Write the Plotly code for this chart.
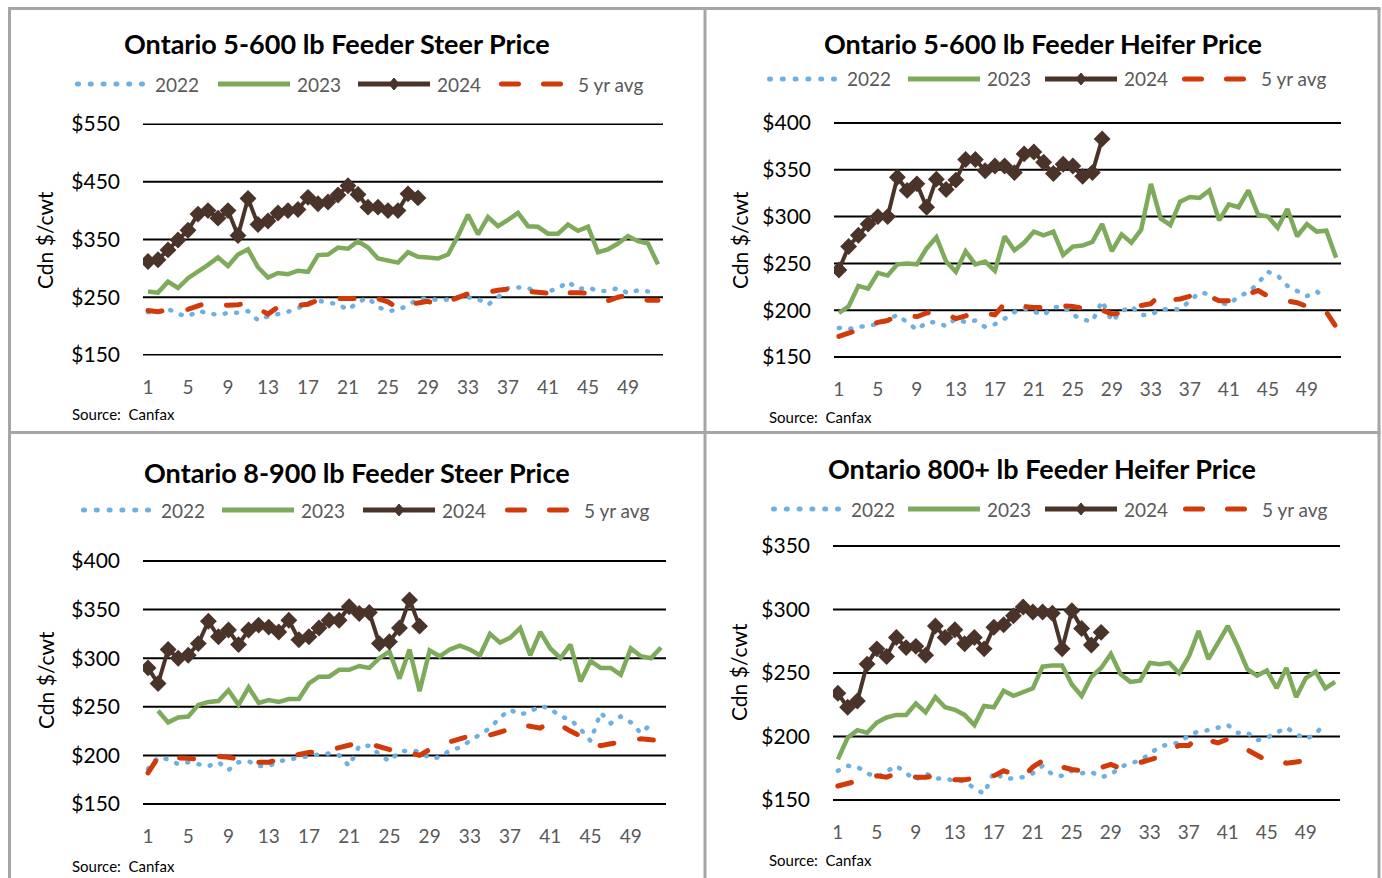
import plotly.graph_objects as go

W, H = 1382, 878
weeks = list(range(1, 53))
series_names = ["2022", "2023", "2024", "5 yr avg"]
xtick_vals = list(range(1, 53, 4))

# ---------------- data (Cdn $/cwt by week) ----------------
# Ontario 5-600 lb Feeder Steer Price
s56_2022 = [224,225,230,221,217,226,223,219,223,223,226,210,217,221,225,231,240,244,240,238,
            228,242,249,233,226,228,236,247,248,245,246,250,250,247,237,250,266,267,266,258,
            260,265,277,264,267,261,261,266,257,262,260]
s56_2023 = [260,258,277,266,283,294,306,319,304,324,333,302,284,292,290,296,294,323,324,336,
            334,347,336,317,314,310,328,320,319,317,324,356,393,359,389,373,384,396,373,372,
            360,360,376,365,372,328,333,343,356,347,343,307]
s56_2024 = [312,315,332,349,366,394,400,387,400,357,421,376,382,396,400,402,423,412,415,427,
            443,428,406,406,400,400,429,422]
s56_avg = [227,225,228,228,229,235,241,238,236,237,240,230,221,233,236,236,238,245,248,248,
           247,248,253,248,242,231,238,240,243,236,242,250,256,256,260,262,264,265,260,258,
           257,250,258,258,257,247,244,250,254,248,245,245]

# Ontario 5-600 lb Feeder Heifer Price
h56_2022 = [181,180,182,183,185,190,195,187,179,187,187,183,191,187,189,182,185,191,198,202,
            198,195,203,204,195,190,188,210,188,199,204,195,195,201,201,201,210,219,217,208,
            206,215,219,229,241,237,226,220,215,220,213]
h56_2023 = [197,204,226,223,240,237,249,250,249,266,278,252,241,263,249,252,242,279,264,272,
            284,280,284,259,268,269,273,292,263,281,272,286,335,298,291,316,321,320,328,296,
            313,310,328,302,300,288,308,279,292,284,285,256]
h56_2024 = [243,268,280,292,300,300,342,328,335,310,340,329,339,361,361,349,354,354,347,367,
            369,358,346,356,354,343,347,383]
h56_avg = [172,175,179,183,187,189,194,195,193,197,199,196,191,194,198,197,195,207,205,204,
           203,203,205,205,204,202,197,200,196,197,198,205,207,217,211,212,215,216,215,210,
           210,214,217,221,215,212,210,208,204,204,198,182]

# Ontario 8-900 lb Feeder Steer Price
s89_2022 = [186,198,196,191,193,191,189,193,185,193,194,189,189,194,196,198,199,201,202,200,
            189,210,210,201,194,204,205,204,197,198,205,208,215,222,228,239,247,242,245,251,
            248,240,237,227,215,244,233,240,234,223,232]
s89_2023 = [None,246,234,239,240,252,255,256,267,252,270,254,257,255,258,258,274,281,281,288,
            288,292,290,300,307,279,309,266,308,302,309,313,309,303,325,316,321,331,303,327,
            310,300,314,276,297,290,290,283,310,302,300,311]
s89_2024 = [290,274,309,300,303,315,338,322,329,314,329,334,332,327,339,319,322,331,339,339,
            353,346,347,315,317,331,360,333]
s89_avg = [182,198,198,198,197,196,197,199,198,196,194,193,193,196,198,201,203,204,205,208,
           210,213,212,209,206,203,203,200,206,212,214,217,220,220,221,224,227,232,230,228,
           235,231,225,220,212,210,212,214,215,217,216,215]

# Ontario 800+ lb Feeder Heifer Price
h8_2022 = [173,177,176,171,168,173,177,171,166,171,167,167,165,165,159,155,172,167,167,168,
           171,177,170,169,173,171,172,168,170,176,179,181,186,192,194,195,201,204,205,207,
           209,203,203,197,199,203,207,202,198,202,211]
h8_2023 = [182,199,205,203,211,215,217,217,226,219,231,223,221,217,209,224,223,236,232,235,
           238,255,256,256,241,232,247,254,265,249,243,244,258,257,258,250,263,283,261,274,
           287,271,253,248,252,238,254,231,246,251,238,243]
h8_2024 = [234,223,228,257,269,263,278,270,271,264,287,278,284,273,278,269,286,288,295,302,
           298,298,297,269,299,285,272,282]
h8_avg = [161,163,165,168,169,168,171,170,168,168,169,167,166,166,167,169,169,173,171,168,
          176,181,181,176,174,173,173,175,178,175,177,180,182,184,189,193,193,200,197,195,
          198,194,190,185,181,182,179,180,181,181,180]

titles = ["Ontario 5-600 lb Feeder Steer Price", "Ontario 5-600 lb Feeder Heifer Price",
          "Ontario 8-900 lb Feeder Steer Price", "Ontario 800+ lb Feeder Heifer Price"]
y_ranges = [(150, 550, 100), (150, 400, 50), (150, 400, 50), (150, 350, 50)]
datasets = [(s56_2022, s56_2023, s56_2024, s56_avg),
            (h56_2022, h56_2023, h56_2024, h56_avg),
            (s89_2022, s89_2023, s89_2024, s89_avg),
            (h8_2022, h8_2023, h8_2024, h8_avg)]

# ---------------- styling / layout (pixel geometry) ----------------
FONT = "Lato"
C22, C23, C24, CAVG = "#6EB0E2", "#7DAA5B", "#4A3429", "#D23A0A"
GRID = "#000000"
BORDER = "#A6A6A6"

geo = [
    dict(x0=143, x1=663, ylo=355, yhi=124, title=(337, 44), leg_y=84, leg_x=[76, 218, 358, 499],
         ylab=(45, 240), src=(70, 414)),
    dict(x0=834, x1=1341, ylo=357, yhi=123, title=(1043, 44), leg_y=79, leg_x=[768, 908, 1045, 1182],
         ylab=(740, 240), src=(767, 417)),
    dict(x0=143, x1=666, ylo=804, yhi=561, title=(357, 472), leg_y=510, leg_x=[82, 222, 363, 505],
         ylab=(45, 680), src=(70, 866)),
    dict(x0=833, x1=1340, ylo=800, yhi=546, title=(1042, 469), leg_y=509, leg_x=[772, 908, 1045, 1183],
         ylab=(738, 672), src=(767, 860)),
]


def px(x):
    return x / W


def py(y):
    return 1 - y / H


fig = go.Figure()
layout = dict(width=W, height=H, margin=dict(l=0, r=0, t=0, b=0, pad=0, autoexpand=False),
              paper_bgcolor="white", plot_bgcolor="white", showlegend=False,
              font=dict(family=FONT), template="none")
shapes, annotations = [], []

for i, (g, rng, data, title) in enumerate(zip(geo, y_ranges, datasets, titles)):
    sfx = "" if i == 0 else str(i + 1)
    xa, ya = "x" + sfx, "y" + sfx
    lo, hi, step = rng
    pad = 1.0
    ppu = (g["ylo"] - g["yhi"]) / (hi - lo)
    dom_y = [py(g["ylo"] + pad * ppu), py(g["yhi"] - pad * ppu)]
    layout["xaxis" + sfx] = dict(domain=[px(g["x0"]), px(g["x1"])], range=[0.5, 52.5],
                                 anchor=ya, tickvals=xtick_vals, showgrid=False, zeroline=False,
                                 showline=False, ticks="", ticklabelstandoff=18, automargin=False,
                                 tickfont=dict(family=FONT, size=19, color="#595959"),
                                 fixedrange=True)
    tv = list(range(lo, hi + 1, step))
    layout["yaxis" + sfx] = dict(domain=dom_y, range=[lo - pad, hi + pad], anchor=xa,
                                 tickvals=tv, ticktext=["$" + str(v) for v in tv],
                                 showgrid=False, zeroline=False,
                                 showline=False, ticks="", ticklabelstandoff=22, automargin=False,
                                 tickfont=dict(family=FONT, size=21, color="#000000"),
                                 fixedrange=True)
    # horizontal gridlines at every y tick value
    for v in tv:
        shapes.append(dict(type="line", xref=xa + " domain", yref=ya, x0=0, x1=1, y0=v, y1=v,
                           layer="below", line=dict(color=GRID, width=2)))

    d22, d23, d24, davg = data
    fig.add_trace(go.Scatter(x=weeks[:len(d22)], y=d22, mode="lines", name="2022",
                             line=dict(color=C22, width=4.5, dash="1px,10.5px"), xaxis=xa, yaxis=ya))
    fig.add_trace(go.Scatter(x=weeks[:len(d23)], y=d23, mode="lines", name="2023",
                             line=dict(color=C23, width=4.5), xaxis=xa, yaxis=ya))
    fig.add_trace(go.Scatter(x=weeks[:len(d24)], y=d24, mode="lines+markers", name="2024",
                             line=dict(color=C24, width=4),
                             marker=dict(symbol="diamond", size=13, color=C24),
                             xaxis=xa, yaxis=ya))
    fig.add_trace(go.Scatter(x=weeks[:len(davg)], y=davg, mode="lines", name="5 yr avg",
                             line=dict(color=CAVG, width=5, dash="14px,26px"), xaxis=xa, yaxis=ya))

    # title
    annotations.append(dict(text="<b>" + title + "</b>", x=px(g["title"][0]), y=py(g["title"][1]),
                            xref="paper", yref="paper", showarrow=False, xanchor="center",
                            yanchor="middle", font=dict(family=FONT, size=27, color="#000000")))
    # y-axis title
    annotations.append(dict(text="Cdn $/cwt", x=px(g["ylab"][0]), y=py(g["ylab"][1]),
                            xref="paper", yref="paper", showarrow=False, textangle=-90,
                            xanchor="center", yanchor="middle",
                            font=dict(family=FONT, size=21, color="#000000")))
    # source
    annotations.append(dict(text="Source:  Canfax", x=px(g["src"][0]), y=py(g["src"][1]),
                            xref="paper", yref="paper", showarrow=False, xanchor="left",
                            yanchor="middle", font=dict(family=FONT, size=15, color="#000000")))
    # legend
    ly = py(g["leg_y"])
    for k, (name, lx) in enumerate(zip(series_names, g["leg_x"])):
        if k == 0:
            shapes.append(dict(type="line", xref="paper", yref="paper", x0=px(lx + 1.5), x1=px(lx + 68),
                               y0=ly, y1=ly, line=dict(color=C22, width=5, dash="1px,11.8px")))
        elif k == 1:
            shapes.append(dict(type="line", xref="paper", yref="paper", x0=px(lx), x1=px(lx + 72),
                               y0=ly, y1=ly, line=dict(color=C23, width=5)))
        elif k == 2:
            shapes.append(dict(type="line", xref="paper", yref="paper", x0=px(lx), x1=px(lx + 72),
                               y0=ly, y1=ly, line=dict(color=C24, width=5)))
            cx = lx + 36
            path = "M {} {} L {} {} L {} {} L {} {} Z".format(
                px(cx - 5), ly, px(cx), py(g["leg_y"] - 6), px(cx + 5), ly, px(cx), py(g["leg_y"] + 6))
            shapes.append(dict(type="path", xref="paper", yref="paper", path=path,
                               fillcolor=C24, line=dict(color=C24, width=1)))
        else:
            shapes.append(dict(type="line", xref="paper", yref="paper", x0=px(lx + 2.5),
                               x1=px(lx + 62), y0=ly, y1=ly,
                               line=dict(color=CAVG, width=5, dash="17px,25px")))
        tx = lx + 77
        annotations.append(dict(text=name, x=px(tx), y=ly, xref="paper", yref="paper",
                                showarrow=False, xanchor="left", yanchor="middle",
                                font=dict(family=FONT, size=19, color="#595959")))

# panel borders
for xv in [9.5, 705, 1379]:
    shapes.append(dict(type="line", xref="paper", yref="paper", x0=px(xv), x1=px(xv),
                       y0=py(8), y1=py(H + 5), line=dict(color=BORDER, width=3)))
for yv in [8.5, 432.5]:
    shapes.append(dict(type="line", xref="paper", yref="paper", x0=px(8), x1=px(1380.5),
                       y0=py(yv), y1=py(yv), line=dict(color=BORDER, width=3)))

layout["shapes"] = shapes
layout["annotations"] = annotations
fig.update_layout(**layout)

post = (
    "document.body.style.margin='0px';"
    "document.querySelectorAll('path').forEach(function(p){"
    "var d=p.style.strokeDasharray;"
    "if(d && d!=='none'){p.style.strokeLinecap='round';}});"
)
fig.write_html("out.html", config={"displayModeBar": False}, post_script=post)
